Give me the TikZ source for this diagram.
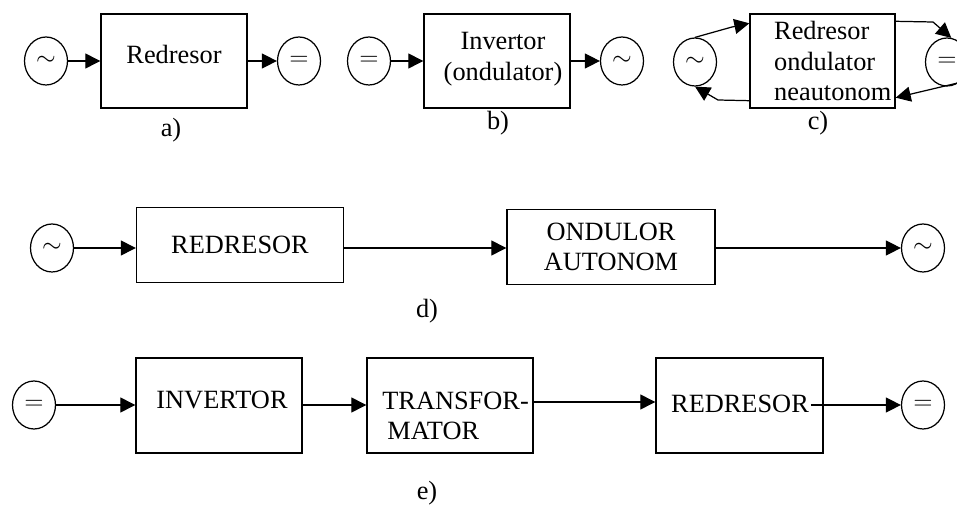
\documentclass[tikz,border=0pt]{standalone}
\usepackage{fontspec}
\setmainfont{Liberation Serif}
\usetikzlibrary{arrows.meta,shapes.geometric}

\begin{document}
\begin{tikzpicture}[x=0.02cm, y=-0.02cm,
		font=\fontsize{15}{17.5}\selectfont,
		blk/.style={draw, line width=0.8pt, inner sep=0pt},
		src/.style={draw, ellipse, line width=0.7pt, minimum width=0.86cm, minimum height=0.96cm, inner sep=0pt},
		arr/.style={line width=0.7pt, -{Triangle[length=0.3cm, width=0.3cm]}}]
		\useasboundingbox (0,0) rectangle (957,506);
		% a)
		\node at (46,61) [src] (acA) {$\sim$};
		\node at (174,61) [blk, minimum width=2.92cm, minimum height=1.88cm] (redA) {};
		\node at (174,54) (redAtxt) {Redresor};
		\node at (299,61) [src] (dcA) {$=$};
		\draw [arr] (acA) -- (redA);
		\draw [arr] (redA) -- (dcA);
		\node at (171,130) (labA) {a)};
		% b)
		\node at (369,61) [src] (dcB) {$=$};
		\node at (497,61) [blk, minimum width=2.92cm, minimum height=1.88cm] (invB) {};
		\node at (503,59) [align=center] (invBtxt) {Invertor\\(ondulator)};
		\node at (622,61) [src] (acB) {$\sim$};
		\draw [arr] (dcB) -- (invB);
		\draw [arr] (invB) -- (acB);
		\node at (498,123) (labB) {b)};
		% c)
		\node at (695,62) [src] (acC) {$\sim$};
		\node at (822.5,61) [blk, minimum width=2.9cm, minimum height=1.88cm] (redC) {};
		\node at (768,61) [anchor=west, align=left] (redCtxt) {Redresor\\ondulator\\neautonom};
		\node at (947,62) [src] (dcC) {$=$};
		\draw [arr] (acC.north) -- (732,27) -- ([yshift=-0.2cm]redC.north west);
		\draw [arr] ([yshift=0.16cm]redC.south west) -- (718,100) -- (acC.south);
		\draw [arr] ([yshift=-0.16cm]redC.north east) -- (933,22) -- (dcC.80);
		\draw [arr] (dcC.-60) -- ([yshift=0.22cm]redC.south east);
		\node at (818,123) (labC) {c)};
		% d)
		\node at (52,248) [src] (acD) {$\sim$};
		\node at (240,245) [blk, minimum width=4.14cm, minimum height=1.5cm] (redD) {REDRESOR};
		\node at (611,247) [blk, minimum width=4.16cm, minimum height=1.5cm, align=center] (ondD) {ONDULOR\\AUTONOM};
		\node at (923,248) [src] (acD2) {$\sim$};
		\draw [arr] (acD) -- (acD -| redD.west);
		\draw [arr] (acD -| redD.east) -- (acD -| ondD.west);
		\draw [arr] (acD -| ondD.east) -- (acD2);
		\node at (427,311) (labD) {d)};
		% e)
		\node at (34,405) [src] (dcE) {$=$};
		\node at (219,405.5) [blk, minimum width=3.32cm, minimum height=1.9cm] (invE) {};
		\node at (222,400) (invEtxt) {INVERTOR};
		\node at (450,405.5) [blk, minimum width=3.32cm, minimum height=1.9cm] (trfE) {};
		\node at (382,416) [anchor=west, align=left, inner sep=0pt] (trfEtxt) {TRANSFOR-\\\hspace*{0.1cm}MATOR};
		\node at (739.5,405.5) [blk, minimum width=3.34cm, minimum height=1.9cm] (redE) {};
		\node at (740,404) [inner xsep=1pt] (redEtxt) {REDRESOR};
		\node at (923,405) [src] (dcE2) {$=$};
		\draw [arr] (dcE) -- (dcE -| invE.west);
		\draw [arr] (dcE -| invE.east) -- (dcE -| trfE.west);
		\draw [arr] (trfE.east |- 0,402) -- (redE.west |- 0,402);
		\draw [arr] (redEtxt.east |- dcE2) -- (dcE2);
		\node at (427,493) (labE) {e)};
	\end{tikzpicture}
\end{document}
